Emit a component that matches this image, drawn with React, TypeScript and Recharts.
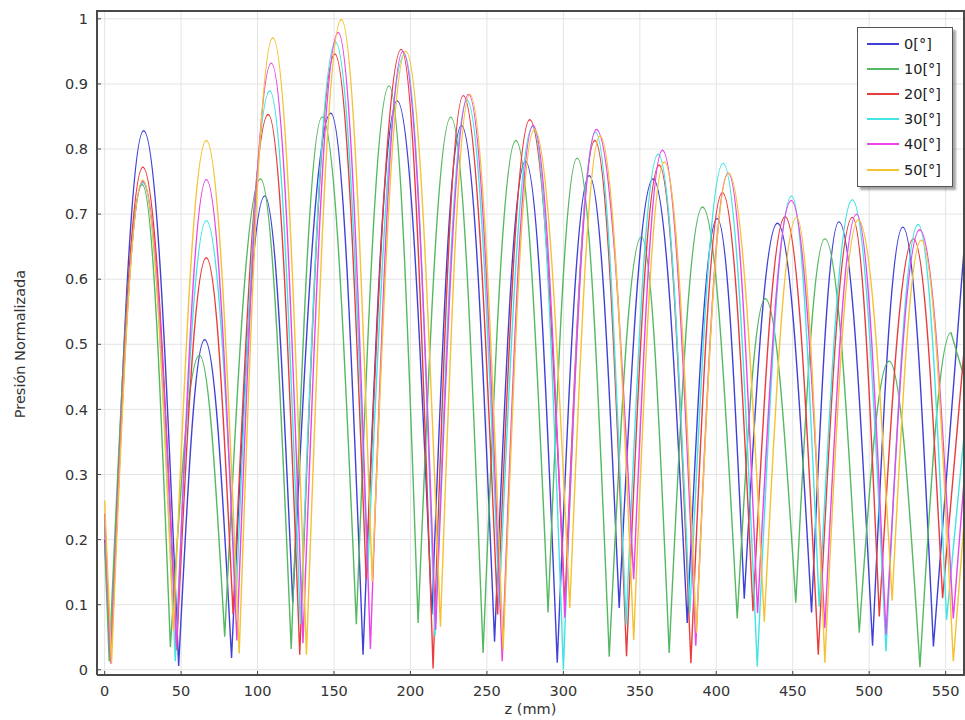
import { LineChart, Line, XAxis, YAxis, CartesianGrid, Legend } from "recharts";

const seriesNames = ["0[°]", "10[°]", "20[°]", "30[°]", "40[°]", "50[°]"];
const colors = ["#4040d8", "#55b862", "#ea3c3c", "#44e4e4", "#ea44ea", "#f4c233"];

// extrema (z in mm, normalized pressure)
const z0 = [0, 4, 25.5, 48.4, 65.4, 83, 104.7, 123, 147.9, 169, 191.3, 214, 233.3, 255, 275.2, 296, 316.9, 336.5, 358.7, 381, 400.6, 418.3, 440, 462.3, 480.2, 502.2, 522, 542, 562];
const p0 = [0.2, 0.01, 0.828, 0.006, 0.507, 0.018, 0.728, 0.103, 0.855, 0.023, 0.874, 0.085, 0.836, 0.043, 0.781, 0.011, 0.759, 0.095, 0.754, 0.072, 0.693, 0.109, 0.686, 0.088, 0.688, 0.037, 0.68, 0.036, 0.645];

const z10 = [0, 3, 24.6, 43, 62, 78.5, 101.9, 122, 142.2, 164.6, 186, 205, 226.4, 247.5, 268.9, 290, 309, 330, 351, 369.2, 391, 413.7, 432, 452, 471, 493.5, 513, 533.2, 553.5, 562];
const p10 = [0.195, 0.013, 0.745, 0.035, 0.483, 0.051, 0.754, 0.032, 0.849, 0.07, 0.897, 0.072, 0.849, 0.026, 0.813, 0.088, 0.786, 0.02, 0.665, 0.026, 0.711, 0.079, 0.57, 0.103, 0.662, 0.057, 0.474, 0.004, 0.518, 0.45];

const z20 = [0, 4, 25, 47, 66.5, 84, 107, 127.6, 150.5, 171, 194, 214.8, 234.5, 257, 278, 301, 320.6, 341.3, 362.6, 383.4, 404, 424, 445, 466.7, 489, 506.6, 529, 548, 562];
const p20 = [0.22, 0.01, 0.772, 0.03, 0.633, 0.085, 0.853, 0.023, 0.946, 0.14, 0.953, 0.002, 0.882, 0.085, 0.845, 0.1, 0.813, 0.021, 0.775, 0.01, 0.733, 0.09, 0.696, 0.023, 0.695, 0.082, 0.662, 0.11, 0.49];

const z30 = [0, 4, 25, 46.2, 66.5, 86, 108, 128, 151, 172, 196, 216, 237, 258, 280, 300, 321, 341, 362, 382.7, 404.5, 426.8, 449.2, 467.3, 489, 511, 532, 550.6, 562];
const p30 = [0.23, 0.01, 0.748, 0.013, 0.69, 0.11, 0.889, 0.07, 0.964, 0.15, 0.945, 0.051, 0.875, 0.1, 0.835, 0.0, 0.826, 0.069, 0.792, 0.087, 0.778, 0.005, 0.728, 0.097, 0.722, 0.028, 0.684, 0.077, 0.36];

const z40 = [0, 4, 25, 47, 66.5, 86.5, 109, 129.7, 152.7, 173.8, 195, 216.5, 238, 260, 280.2, 301, 321.6, 346, 364.8, 386.6, 407.8, 427, 449, 471, 491.7, 511, 533, 555, 562];
const p40 = [0.24, 0.01, 0.75, 0.035, 0.753, 0.045, 0.932, 0.041, 0.979, 0.032, 0.95, 0.061, 0.884, 0.013, 0.836, 0.08, 0.83, 0.139, 0.798, 0.037, 0.763, 0.087, 0.721, 0.064, 0.7, 0.054, 0.676, 0.079, 0.29];

const z50 = [0, 4.5, 25, 45, 66.5, 88, 110, 132, 154.8, 175, 197, 219.6, 238.8, 260.6, 281, 304.2, 324, 346, 366, 387, 408, 431.4, 452.5, 471, 492.9, 515, 534, 555, 562];
const p50 = [0.26, 0.01, 0.752, 0.06, 0.813, 0.025, 0.971, 0.023, 0.999, 0.135, 0.95, 0.066, 0.884, 0.031, 0.83, 0.095, 0.82, 0.046, 0.78, 0.056, 0.763, 0.074, 0.695, 0.011, 0.691, 0.106, 0.66, 0.013, 0.225];

const xTicks = [0, 50, 100, 150, 200, 250, 300, 350, 400, 450, 500, 550];
const yTicks = [0, 0.1, 0.2, 0.3, 0.4, 0.5, 0.6, 0.7, 0.8, 0.9, 1];

const zs = [z0, z10, z20, z30, z40, z50];
const ps = [p0, p10, p20, p30, p40, p50];
const series = zs.map((z, i) => z.map((v, j) => ({ z: v, p: ps[i][j] })));

const xDomain = [-5, 562];
const yDomain = [-0.008, 1.012];

const font = '"DejaVu Sans", sans-serif';
const fontSize = 14.5;
const axisColor = "#4a4a4a";
const textColor = "#333";

// arch-shaped curve between extrema: steep at troughs, flat at peaks
const archCurve = (context: any) => {
  let pts: number[][] = [];
  return {
    areaStart() {},
    areaEnd() {},
    lineStart() {
      pts = [];
    },
    point(x: number, y: number) {
      pts.push([+x, +y]);
    },
    lineEnd() {
      if (!pts.length) return;
      context.moveTo(pts[0][0], pts[0][1]);
      for (let i = 1; i < pts.length; i++) {
        const [x0, y0] = pts[i - 1];
        const [x1, y1] = pts[i];
        if (i === 1 || i === pts.length - 1) {
          context.lineTo(x1, y1);
          continue;
        }
        const dx = x1 - x0;
        const dy = y1 - y0;
        if (y1 < y0) {
          context.bezierCurveTo(x0 + dx * 0.36, y0 + dy * 0.57, x1 - dx * 0.36, y1, x1, y1);
        } else {
          context.bezierCurveTo(x0 + dx * 0.36, y0, x1 - dx * 0.36, y1 - dy * 0.57, x1, y1);
        }
      }
    },
  };
};

const LegendBox = () => (
  <div
    style={{
      width: 96,
      height: 160,
      boxSizing: "border-box",
      border: "1.5px solid #555",
      background: "#fff",
      boxShadow: "3px 3px 2px rgba(0,0,0,0.35)",
      padding: "3px 0 0 9px",
      fontFamily: font,
      fontSize,
      color: "#222",
    }}
  >
    {seriesNames.map((n, i) => (
      <div key={n} style={{ display: "flex", alignItems: "center", height: 25.2 }}>
        <span style={{ display: "inline-block", width: 32, borderTop: `2px solid ${colors[i]}`, marginRight: 5 }} />
        <span>{n}</span>
      </div>
    ))}
  </div>
);

export default function App() {
  return (
    <div style={{ position: "absolute", left: 0, top: 0, width: 965, height: 720, fontFamily: font }}>
      <LineChart width={965} height={720} margin={{ top: 11, right: 1, bottom: 0, left: 0 }}>
        <CartesianGrid stroke="#e4e4e4" strokeWidth={1} />
        <XAxis
          dataKey="z"
          type="number"
          domain={xDomain}
          ticks={xTicks}
          allowDataOverflow
          height={45}
          tickSize={-4}
          tickMargin={15}
          tick={{ fill: textColor, fontSize }}
          axisLine={{ stroke: axisColor, strokeWidth: 2 }}
          tickLine={{ stroke: axisColor }}
          label={{ value: "z (mm)", position: "insideBottom", offset: 6, fill: textColor, fontSize }}
        />
        <YAxis
          type="number"
          domain={yDomain}
          ticks={yTicks}
          allowDataOverflow
          width={97}
          tickSize={-4}
          tickMargin={13}
          tick={{ fill: textColor, fontSize }}
          axisLine={{ stroke: axisColor, strokeWidth: 2 }}
          tickLine={{ stroke: axisColor }}
          label={{
            content: () => (
              <text x={20} y={344} transform="rotate(-90 20 344)" textAnchor="middle" dominantBaseline="central" fill={textColor} fontSize={fontSize}>
                Presión Normalizada
              </text>
            ),
          }}
        />
        {series.map((d, i) => (
          <Line
            key={seriesNames[i]}
            data={d}
            dataKey="p"
            name={seriesNames[i]}
            type={archCurve as any}
            stroke={colors[i]}
            strokeWidth={1.4}
            dot={false}
            activeDot={false}
            isAnimationActive={false}
          />
        ))}
        <Legend
          layout="vertical"
          align="center"
          verticalAlign="middle"
          content={() => <LegendBox />}
          wrapperStyle={{ position: "absolute", left: 857, top: 27, width: 96, height: 160 }}
        />
      </LineChart>
      {/* top and right edges of the plot frame */}
      <div
        style={{
          position: "absolute",
          left: 96,
          top: 10,
          width: 869,
          height: 666,
          boxSizing: "border-box",
          borderTop: `2px solid ${axisColor}`,
          borderRight: `2px solid ${axisColor}`,
          pointerEvents: "none",
        }}
      />
    </div>
  );
}
